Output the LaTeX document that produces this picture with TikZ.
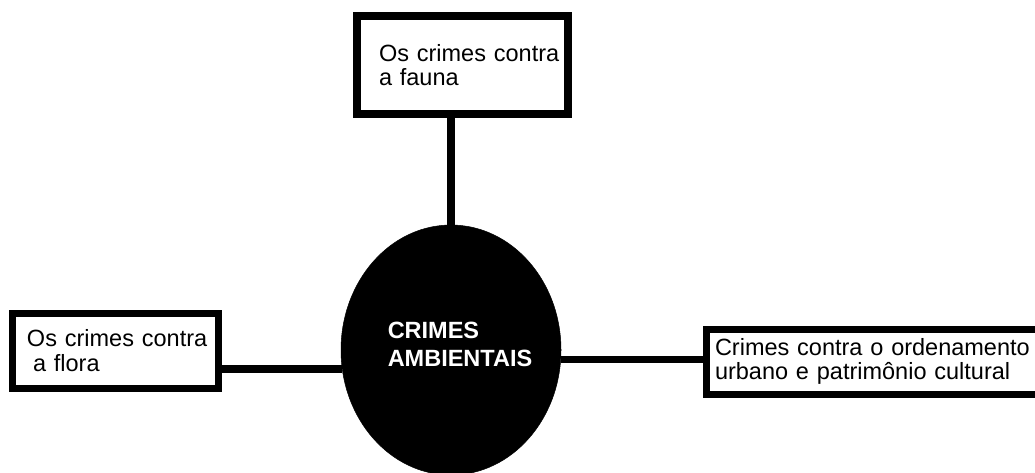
\documentclass[tikz,border=0pt]{standalone}
\usepackage{fontspec}
\setmainfont{Liberation Sans}
\usetikzlibrary{shapes.geometric}
\begin{document}
\begin{tikzpicture}[x=1pt,y=1pt,
  box/.style={draw=black, rectangle, inner xsep=0pt, inner ysep=0pt, outer sep=0pt,
    align=left, font=\fontsize{23.5}{24.5}\selectfont, anchor=center},
  hub/.style={ellipse, fill=black, draw=black, line width=0.5pt, inner sep=0pt, outer sep=0pt},
  hubtext/.style={font=\fontsize{23.5}{28}\selectfont\bfseries, text=white, align=left, inner sep=0pt},
  link/.style={draw=black, line width=8pt}]
\useasboundingbox (0,0) rectangle (1035,472);
\node[hub, minimum width=220pt, minimum height=250pt] (c) at (451,122) {};
\node[hubtext] (ct) at (460,127.5) {CRIMES\\AMBIENTAIS};
\node[box, line width=8pt, text width=211pt, minimum height=98pt] (fauna) at (462.5,407)
  {\hspace*{22pt}Os crimes contra\\\hspace*{22pt}a fauna};
\node[box, line width=7pt, text width=206pt, minimum height=75pt] (flora) at (115,121.5)
  {\hspace*{15pt}Os crimes contra\\\hspace*{21pt}a flora};
\node[box, line width=7pt, text width=345pt, minimum height=65pt, anchor=west] (urb) at (706,110.5)
  {\hspace*{9pt}Crimes contra o ordenamento\\\hspace*{9pt}urbano e patrimônio cultural};
\draw[link] (c.north) -- (c.north |- fauna.south);
\draw[link] (c.190) -- (c.190 -| flora.east);
\draw[link, line width=7pt] (c.-5) -- (c.-5 -| urb.west);
\end{tikzpicture}
\end{document}
